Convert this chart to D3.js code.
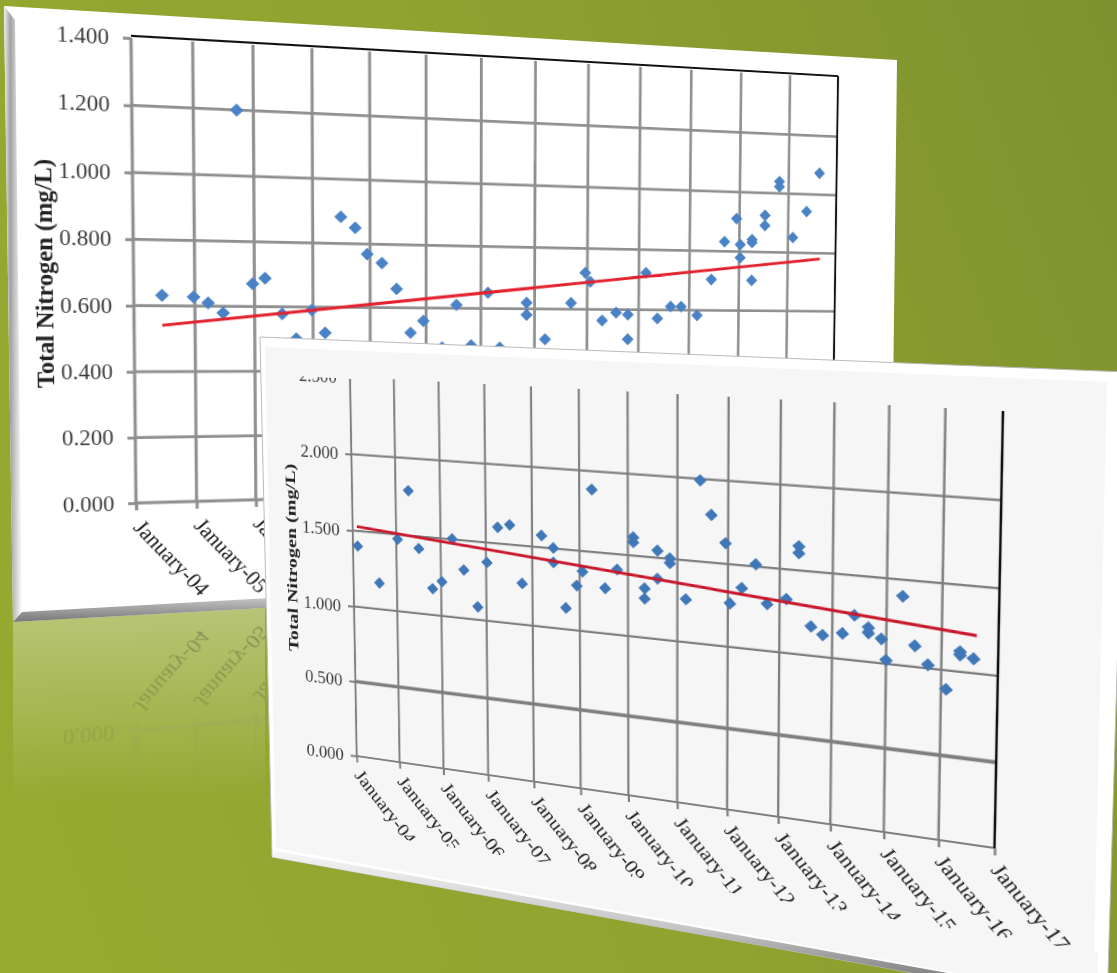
<!DOCTYPE html>
<html>
<head>
<meta charset="utf-8">
<script src="https://cdn.jsdelivr.net/npm/d3@7"></script>
<style>
  html, body { margin: 0; padding: 0; }
  body { width: 1117px; height: 973px; overflow: hidden; position: relative; }
  .layer { position: absolute; left: 0; top: 0; }
  .flat { position: absolute; left: 0; top: 0; transform-origin: 0 0; overflow: visible; }
  text { font-family: "Liberation Serif", serif; }
</style>
</head>
<body>
<script>
// shared axis labels
const yearTicks = [2004, 2005, 2006, 2007, 2008, 2009, 2010, 2011, 2012, 2013, 2014, 2015, 2016, 2017];
const yearLabels = ["January-04", "January-05", "January-06", "January-07", "January-08", "January-09", "January-10",
  "January-11", "January-12", "January-13", "January-14", "January-15", "January-16", "January-17"];
const axisTitle = "Total Nitrogen (mg/L)";

// upper chart
const ticksA = [0, 0.2, 0.4, 0.6, 0.8, 1.0, 1.2, 1.4];
const datesA = [2004.46, 2005.72, 2004.98, 2005.22, 2005.47, 2005.97, 2006.18, 2006.47, 2006.71, 2006.98, 2007.21,
  2007.49, 2007.74, 2007.95, 2008.21, 2008.47, 2008.72, 2008.95, 2009.29, 2009.55, 2009.82, 2010.13, 2010.35,
  2010.85, 2010.85, 2011.2, 2011.69, 2011.96, 2012.06, 2012.29, 2012.56, 2012.79, 2012.79, 2013.14, 2013.37,
  2013.63, 2013.84, 2014.16, 2014.44, 2014.7, 2014.94, 2015.02, 2015.02, 2015.26, 2015.26, 2015.26, 2015.52,
  2015.52, 2015.81, 2015.81, 2016.1, 2016.38, 2016.64];
const valuesA = [0.632, 1.2, 0.628, 0.61, 0.58, 0.67, 0.688, 0.578, 0.501, 0.591, 0.52,
  0.883, 0.85, 0.768, 0.741, 0.66, 0.521, 0.559, 0.474, 0.611, 0.481, 0.651, 0.474,
  0.62, 0.581, 0.501, 0.621, 0.72, 0.691, 0.564, 0.59, 0.584, 0.502, 0.723, 0.572,
  0.612, 0.612, 0.583, 0.704, 0.832, 0.911, 0.823, 0.779, 0.841, 0.831, 0.703, 0.924,
  0.89, 1.04, 1.023, 0.851, 0.941, 1.073];
const trendDatesA = [2004.46, 2016.67];
const trendValuesA = [0.541, 0.78];

// lower chart
const ticksB = [0, 0.5, 1.0, 1.5, 2.0, 2.5];
const datesB = [2004.11, 2004.6, 2005.03, 2005.29, 2005.51, 2005.81, 2006.02, 2006.26, 2006.51, 2006.81, 2007.02,
  2007.26, 2007.52, 2007.78, 2008.2, 2008.45, 2008.45, 2008.71, 2008.94, 2009.06, 2009.26, 2009.53, 2009.78,
  2010.11, 2010.11, 2010.34, 2010.34, 2010.6, 2010.6, 2010.85, 2010.85, 2011.17, 2011.45, 2011.67, 2011.95,
  2012.04, 2012.27, 2012.54, 2012.76, 2013.13, 2013.36, 2013.36, 2013.6, 2013.82, 2014.19, 2014.41, 2014.67,
  2014.67, 2014.91, 2015.0, 2015.29, 2015.52, 2015.76, 2016.09, 2016.33, 2016.33, 2016.57];
const valuesB = [1.401, 1.172, 1.47, 1.79, 1.422, 1.17, 1.222, 1.504, 1.311, 1.083, 1.373,
  1.603, 1.625, 1.261, 1.575, 1.503, 1.413, 1.134, 1.281, 1.372, 1.887, 1.282, 1.405,
  1.613, 1.583, 1.305, 1.242, 1.544, 1.372, 1.504, 1.474, 1.263, 1.991, 1.788, 1.625,
  1.264, 1.364, 1.514, 1.282, 1.323, 1.643, 1.603, 1.174, 1.13, 1.152, 1.266, 1.202,
  1.17, 1.143, 1.021, 1.404, 1.123, 1.02, 0.889, 1.097, 1.116, 1.083];
const trendDatesB = [2004.1, 2016.62];
const trendValuesB = [1.529, 1.218];

// screen corners of each plot area: top-left, top-right, bottom-right, bottom-left
const quadA = [[131, 38], [838, 78], [832, 484], [136, 503]];
const quadB = [[350, 377], [1003, 411], [994.5, 848], [356.7, 756]];
const mirrorY = (p) => [p[0], 1250 - 0.12 * p[0] - p[1]];

// homography from a flat rectangle onto a screen quad, as css matrix3d
function quadMatrix(q, ml, mt, pw, ph) {
  const [[x0, y0], [x1, y1], [x2, y2], [x3, y3]] = q;
  const dx1 = x1 - x2, dx2 = x3 - x2, sx = x0 - x1 + x2 - x3;
  const dy1 = y1 - y2, dy2 = y3 - y2, sy = y0 - y1 + y2 - y3;
  const den = dx1 * dy2 - dx2 * dy1;
  const g = (sx * dy2 - dx2 * sy) / den;
  const h = (dx1 * sy - sx * dy1) / den;
  const a = x1 - x0 + g * x1, b = x3 - x0 + h * x3;
  const d = y1 - y0 + g * y1, e = y3 - y0 + h * y3;
  const col = (p, q2, r) => [p / pw, q2 / ph, r - p * ml / pw - q2 * mt / ph];
  const r1 = col(a, b, x0), r2 = col(d, e, y0), r3 = col(g, h, 1);
  return `matrix3d(${[r1[0], r2[0], 0, r3[0], r1[1], r2[1], 0, r3[1], 0, 0, 1, 0, r1[2], r2[2], 0, r3[2]].join(",")})`;
}

function drawChart(parent, o) {
  const ml = 130, mt = 40;
  const svg = parent.append("svg").attr("class", "flat")
    .attr("width", o.pw + 250).attr("height", o.ph + 220)
    .style("transform", quadMatrix(o.quad, ml, mt, o.pw, o.ph));
  const g = svg.append("g").attr("transform", `translate(${ml},${mt})`);

  const x = d3.scaleLinear().domain([2004, 2017]).range([0, o.pw]);
  const y = d3.scaleLinear().domain([0, o.yMax]).range([o.ph, 0]);

  // grid, nothing along the very top of the plot
  g.append("g").selectAll("line").data(o.yTicks.filter((d) => d < o.yMax)).join("line")
    .attr("x1", 0).attr("x2", o.pw).attr("y1", y).attr("y2", y)
    .attr("stroke", o.grid).attr("stroke-width", (d) => (d === o.thick ? 3.8 : o.gridW));
  g.append("g").selectAll("line").data(yearTicks.slice(0, -1)).join("line")
    .attr("x1", x).attr("x2", x).attr("y1", 0).attr("y2", o.ph)
    .attr("stroke", o.grid).attr("stroke-width", o.gridW);

  // right edge, and the top edge on the upper chart
  g.append("line").attr("x1", o.pw).attr("x2", o.pw).attr("y1", o.topLine ? -2 : 0).attr("y2", o.ph)
    .attr("stroke", "#111").attr("stroke-width", 2.2);
  if (o.topLine) {
    g.append("line").attr("x1", 0).attr("x2", o.pw).attr("y1", -2).attr("y2", -2)
      .attr("stroke", "#111").attr("stroke-width", 2);
  }

  // axes
  const yAxis = d3.axisLeft(y).tickValues(o.yTicks).tickFormat(d3.format(".3f")).tickSize(7).tickPadding(o.yPad);
  const gy = g.append("g").call(yAxis);
  const xAxis = d3.axisBottom(x).tickValues(yearTicks).tickFormat((d, i) => yearLabels[i]).tickSize(7);
  const gx = g.append("g").attr("transform", `translate(0,${o.ph})`).call(xAxis);
  gy.select(".domain").remove();
  gx.select(".domain").remove();
  g.selectAll(".tick line").attr("stroke", o.grid).attr("stroke-width", o.gridW);
  gy.selectAll("text").attr("font-size", o.tickFont).attr("fill", o.tickFill).style("font-family", '"Liberation Serif", serif');
  gx.selectAll("text").attr("font-size", o.xFont).attr("fill", "#1c1c1c").style("font-family", '"Liberation Serif", serif')
    .attr("text-anchor", "start").attr("dy", 0).attr("y", 0)
    .attr("transform", `translate(${o.xOff[0]},${o.xOff[1]}) rotate(${o.xRot})`);

  // y title
  if (o.title) {
    g.append("text").attr("transform", `translate(${o.titleX},${o.titleY}) rotate(-90)`)
      .attr("text-anchor", "middle").attr("font-weight", "bold").attr("font-size", o.titleFont)
      .attr("fill", "#222").attr("textLength", o.titleLen).attr("lengthAdjust", "spacingAndGlyphs")
      .text(o.title);
  }

  // diamonds
  const diamond = d3.symbol().type(d3.symbolSquare).size(o.markSize);
  g.append("g").selectAll("path").data(o.dates).join("path")
    .attr("d", diamond)
    .attr("fill", o.markFill)
    .attr("transform", (d, i) => `translate(${x(d)},${y(o.values[i])}) rotate(45)`);

  // trend
  if (o.trendDates.length) {
    const line = d3.line().x((d) => x(d)).y((d, i) => y(o.trendValues[i]));
    g.append("path").attr("d", line(o.trendDates)).attr("fill", "none")
      .attr("stroke", o.trendColor).attr("stroke-width", 3);
  }

  // the lower chart's picture is cropped: strips in panel colour hide the cut parts of its text
  (o.covers || []).forEach((c) => {
    g.append("rect").attr("x", c[0]).attr("y", c[1]).attr("width", c[2]).attr("height", c[3]).attr("fill", o.panel);
  });
}

const body = d3.select("body");
body.style("background", "linear-gradient(70deg, #97aa31 0%, #90a330 50%, #7f912e 100%)");

const optsA = {
  quad: quadA, pw: 705, ph: 437, yMax: 1.4, yTicks: ticksA, thick: null, topLine: true,
  grid: "#8f8f8f", gridW: 2.8, yPad: 12, tickFont: 20, tickFill: "#3c3c3c", xFont: 20.5, xOff: [-4, 24], xRot: 49,
  title: axisTitle, titleX: -70, titleY: 221, titleFont: 21, titleLen: 212,
  dates: datesA, values: valuesA, trendDates: trendDatesA, trendValues: trendValuesA,
  markSize: 78, markFill: "#4a82c6", trendColor: "#e3222f", panel: "#fff"
};

// backdrop layer: reflection of the upper panel
const back = body.append("svg").attr("class", "layer").attr("width", 1117).attr("height", 973);
const defs = back.append("defs");
function vGrad(id, stops, horizontal) {
  const gr = defs.append("linearGradient").attr("id", id).attr("x1", 0).attr("y1", 0)
    .attr("x2", horizontal ? 1 : 0).attr("y2", horizontal ? 0 : 1);
  stops.forEach((s) => gr.append("stop").attr("offset", s[0]).attr("stop-color", s[1]).attr("stop-opacity", s[2]));
}
vGrad("fade", [[0, "#fff", 0.34], [1, "#fff", 0]]);
vGrad("bevelLeft", [[0, "#eeeeee", 1], [0.35, "#a2a2a2", 1], [1, "#ffffff", 1]], true);
vGrad("bevelBottom", [[0, "#ffffff", 1], [0.6, "#c2c2c2", 1], [1, "#777777", 1]]);
back.append("polygon").attr("points", "13,622 265,608 265,800 13,800").attr("fill", "url(#fade)");

// only the bottom of the chart shows in the reflection
const mirror = body.append("div").attr("class", "layer")
  .style("width", "1117px").style("height", "973px")
  .style("clip-path", "polygon(13px 624px, 265px 610px, 265px 973px, 13px 973px)")
  .style("-webkit-mask-image", "linear-gradient(to bottom, rgba(0,0,0,0.3) 620px, rgba(0,0,0,0.12) 730px, rgba(0,0,0,0) 800px)");
drawChart(mirror, { ...optsA, quad: quadA.map(mirrorY), yTicks: [0, 0.2], topLine: false, title: null,
  dates: [], values: [], trendDates: [], trendValues: [] });

// upper panel
const panelA = body.append("svg").attr("class", "layer").attr("width", 1117).attr("height", 973);
panelA.append("polygon").attr("points", "4,6 897,60 891,573 13,622").attr("fill", "#fff");
panelA.append("polygon").attr("points", "4,6 15,20 22,612 13,622").attr("fill", "url(#bevelLeft)");
panelA.append("polygon").attr("points", "13,622 22,612 891,563 891,573").attr("fill", "url(#bevelBottom)");
const chartA = body.append("div").attr("class", "layer");
drawChart(chartA, optsA);

// lower panel
const panelB = body.append("svg").attr("class", "layer").attr("width", 1117).attr("height", 973);
const defsB = panelB.append("defs");
const shade = defsB.append("linearGradient").attr("id", "edgeB").attr("x1", 0).attr("y1", 0).attr("x2", 0).attr("y2", 1);
[[0, "#f6f6f6"], [0.5, "#c4c4c4"], [1, "#555"]].forEach((s) => shade.append("stop").attr("offset", s[0]).attr("stop-color", s[1]));
panelB.append("polygon").attr("points", "260,337 1126,372 1107,1008 272,857").attr("fill", "#fff")
  .attr("stroke", "#bbbbbb").attr("stroke-width", 1);
panelB.append("polygon").attr("points", "265,347 1107,382 1093,998 276,848").attr("fill", "#f6f6f6");
panelB.append("polygon").attr("points", "272,857 276,851 1107,1002 1107,1008").attr("fill", "url(#edgeB)");
const chartB = body.append("div").attr("class", "layer");
drawChart(chartB, {
  quad: quadB, pw: 640, ph: 408, yMax: 2.5, yTicks: ticksB, thick: 0.5, topLine: false,
  grid: "#7f7f7f", gridW: 2.2, yPad: 8, tickFont: 19.5, tickFill: "#3c3c3c", xFont: 20.5, xOff: [-4, 22], xRot: 48,
  title: axisTitle, titleX: -66, titleY: 199, titleFont: 16, titleLen: 205,
  dates: datesB, values: valuesB, trendDates: trendDatesB, trendValues: trendValuesB,
  markSize: 76, markFill: "#3f77b8", trendColor: "#c9182b", panel: "#f6f6f6",
  covers: [[-70, -24, 90, 26], [-10, 408 + 84, 740, 34], [-90, 240, 12, 135]]
});
</script>
</body>
</html>
